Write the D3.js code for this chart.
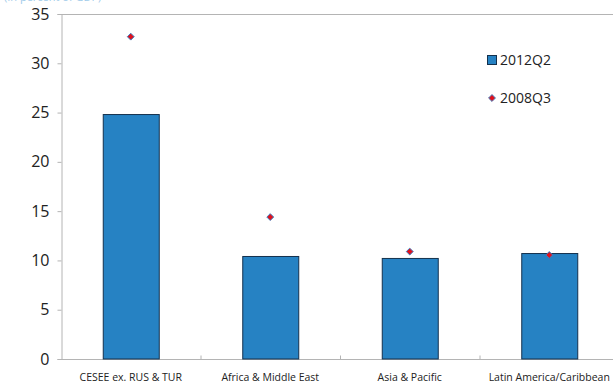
<!DOCTYPE html>
<html>
<head>
<meta charset="utf-8">
<script src="https://cdn.jsdelivr.net/npm/d3@7"></script>
<style>
  html, body { margin: 0; padding: 0; background: #fff; }
  svg { display: block; font-family: "Open Sans", "Noto Sans", sans-serif; }
</style>
</head>
<body>
<svg id="chart" width="613" height="383"></svg>
<script>
// Regions and their values (percent)
const categories = ["CESEE ex. RUS & TUR", "Africa & Middle East", "Asia & Pacific", "Latin America/Caribbean"];
const values2012Q2 = [24.8, 10.4, 10.2, 10.7];
const values2008Q3 = [32.7, 14.4, 10.9, 10.55];
const yTicks = [0, 5, 10, 15, 20, 25, 30, 35];
const seriesNames = ["2012Q2", "2008Q3"];

const svg = d3.select("#chart");
const margin = { left: 61, top: 14, right: -6, bottom: 24 };
const W = 613, H = 383;
const plotRight = W - margin.right;
const plotBottom = H - margin.bottom;

const x = d3.scaleBand().domain(categories).range([margin.left, plotRight]).paddingInner(0).paddingOuter(0);
const y = d3.scaleLinear().domain([0, 35]).range([plotBottom, margin.top]);

const frameColor = "#b4b4b4";

// Faint unit note at the very top edge
svg.append("text")
  .attr("x", 4).attr("y", 1)
  .attr("font-size", 11).attr("fill", "#9fcbea")
  .text("(In percent of GDP)");

// Top frame line
svg.append("line")
  .attr("x1", margin.left).attr("x2", W)
  .attr("y1", margin.top + 0.5).attr("y2", margin.top + 0.5)
  .attr("stroke", frameColor);

// Y axis
const yAxis = svg.append("g")
  .attr("transform", `translate(${margin.left + 0.5},0)`)
  .call(d3.axisLeft(y).tickValues(yTicks).tickSize(4).tickPadding(8).tickFormat(d3.format("d")));
yAxis.select(".domain").attr("stroke", frameColor);
yAxis.selectAll(".tick line").attr("stroke", frameColor);
yAxis.selectAll(".tick text").attr("font-size", 16).attr("fill", "#222")
  .attr("font-family", "'Open Sans', sans-serif");

// X axis with ticks between categories
const xAxis = svg.append("g")
  .attr("transform", `translate(0,${plotBottom + 0.5})`);
xAxis.append("line")
  .attr("x1", margin.left).attr("x2", W)
  .attr("stroke", frameColor);
xAxis.selectAll("line.sep")
  .data(categories.slice(1))
  .join("line")
  .attr("class", "sep")
  .attr("x1", d => x(d) + 0.5).attr("x2", d => x(d) + 0.5)
  .attr("y1", -4).attr("y2", 0)
  .attr("stroke", frameColor);
xAxis.selectAll("text")
  .data(categories)
  .join("text")
  .attr("x", d => x(d) + x.bandwidth() / 2)
  .attr("y", 21)
  .attr("text-anchor", "middle")
  .attr("font-size", 10.5)
  .attr("fill", "#222")
  .text(d => d);

// Bars (2012Q2)
const barW = 56;
svg.append("g").selectAll("rect")
  .data(categories)
  .join("rect")
  .attr("x", d => x(d) + x.bandwidth() / 2 - barW / 2 + 0.5)
  .attr("y", (d, i) => y(values2012Q2[i]))
  .attr("width", barW)
  .attr("height", (d, i) => plotBottom - y(values2012Q2[i]))
  .attr("fill", "#2682c3")
  .attr("stroke", "#14314d")
  .attr("stroke-width", 1);

// Diamond markers (2008Q3)
const diamond = d3.symbol().type(d3.symbolDiamond2).size(30);
svg.append("g").selectAll("path")
  .data(categories)
  .join("path")
  .attr("transform", (d, i) => `translate(${x(d) + x.bandwidth() / 2},${y(values2008Q3[i])})`)
  .attr("d", diamond)
  .attr("fill", "#e0101c")
  .attr("stroke", "#3f7fc0")
  .attr("stroke-width", 1);

// Legend
const legend = svg.append("g").attr("font-size", 14).attr("fill", "#222");
legend.append("rect")
  .attr("x", 487.5).attr("y", 55.5).attr("width", 9).attr("height", 9)
  .attr("fill", "#2682c3").attr("stroke", "#14314d");
legend.append("text").attr("x", 500).attr("y", 65).text(seriesNames[0]);
legend.append("path")
  .attr("transform", "translate(492,98)")
  .attr("d", diamond)
  .attr("fill", "#e0101c").attr("stroke", "#3f7fc0");
legend.append("text").attr("x", 500).attr("y", 103).text(seriesNames[1]);
</script>
</body>
</html>
